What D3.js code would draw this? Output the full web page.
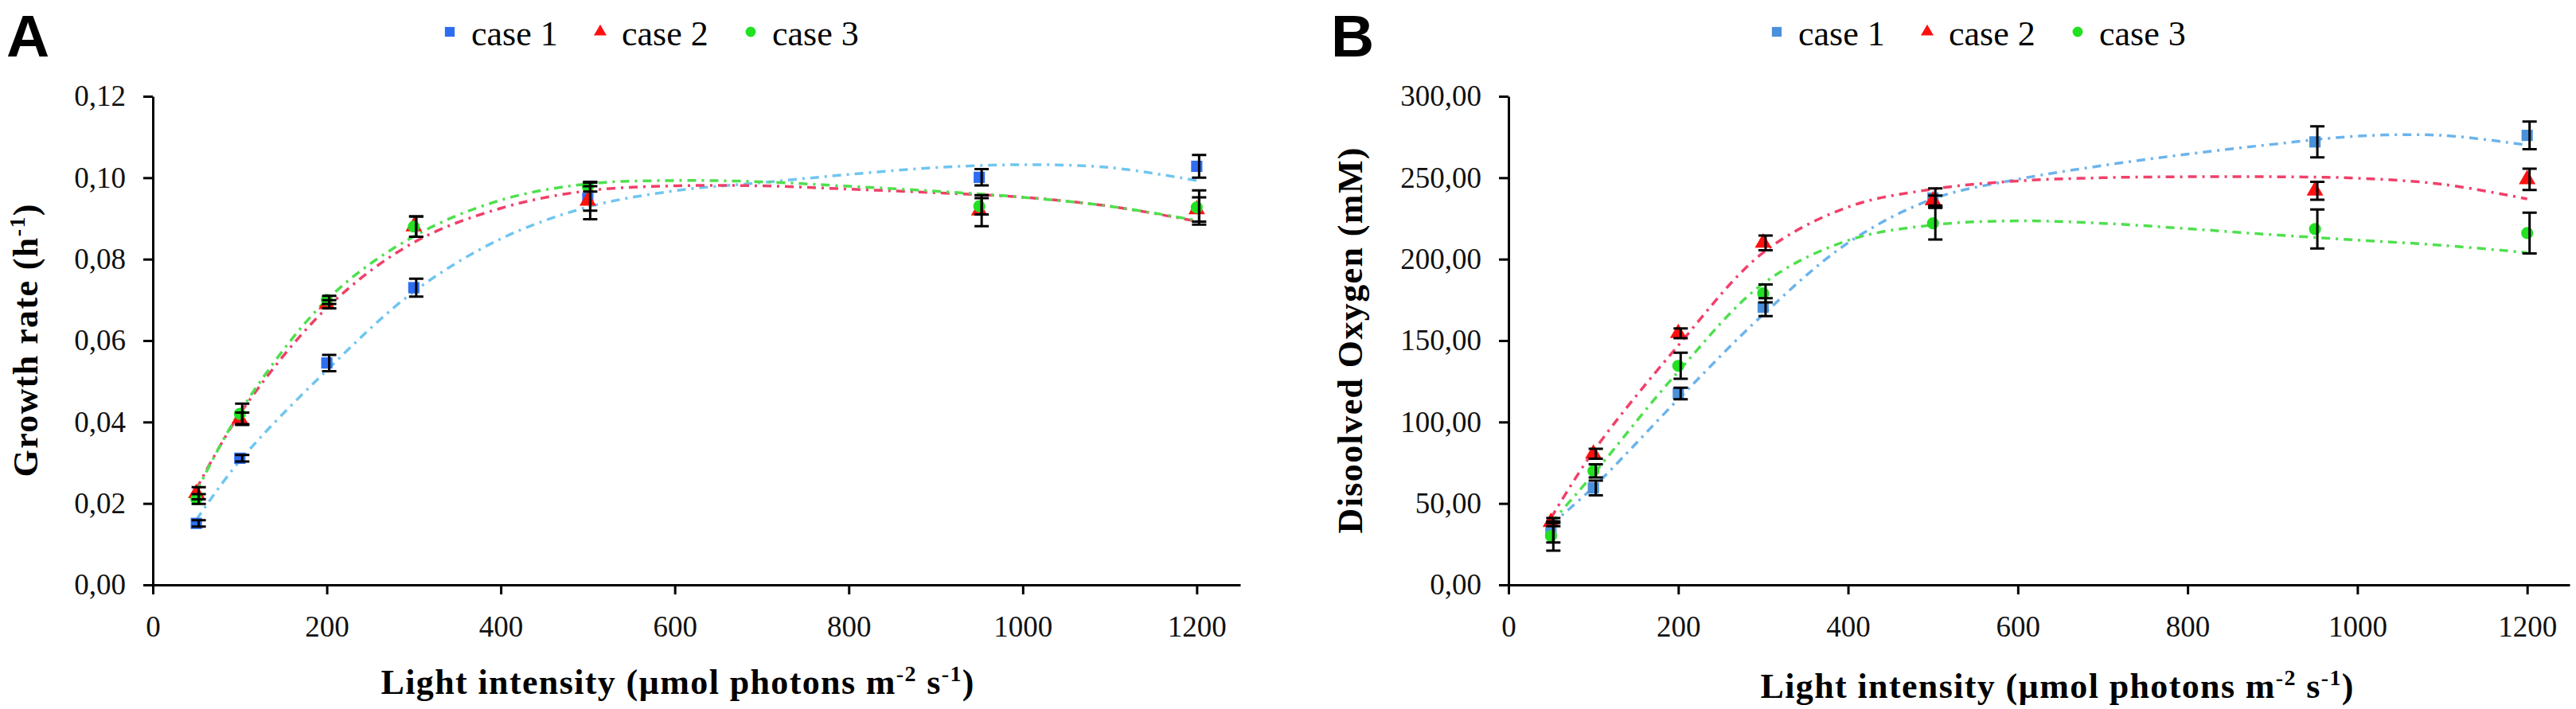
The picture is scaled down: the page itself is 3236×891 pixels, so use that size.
<!DOCTYPE html>
<html>
<head>
<meta charset="utf-8">
<script src="https://cdn.jsdelivr.net/npm/d3@7"></script>
<style>
  body { margin: 0; background: #fff; }
  svg { display: block; }
  .tick text { font-family: 'Liberation Serif', serif; font-size: 37px; fill: #111; }
</style>
</head>
<body>
<div id="chart-area"></div>
<script>
// light intensity levels (µmol photons m-2 s-1)
const lightLevels = [50, 100, 200, 300, 500, 950, 1200]
const xTicks = [0, 200, 400, 600, 800, 1000, 1200]
const seriesNames = ['case 1', 'case 2', 'case 3']

// panel A - growth rate (h-1)
const growthCase1 = [0.0151, 0.0311, 0.0545, 0.0730, 0.0949, 0.1001, 0.1028]
const growthCase2 = [0.0225, 0.0408, 0.0689, 0.0880, 0.0943, 0.0919, 0.0922]
const growthCase3 = [0.0211, 0.0420, 0.0700, 0.0880, 0.0978, 0.0930, 0.0927]
const growthErr1 = [0.0008, 0.0008, 0.0020, 0.0022, 0.0030, 0.0020, 0.0028]
const growthErr2 = [0.0015, 0.0015, 0.0010, 0.0025, 0.0045, 0.0038, 0.0030]
const growthErr3 = [0.0012, 0.0025, 0.0010, 0.0025, 0.0012, 0.0020, 0.0042]
const growthTicks = [0, 0.02, 0.04, 0.06, 0.08, 0.10, 0.12]

// panel B - dissolved oxygen (mM)
const oxygenCase1 = [32, 59.5, 117.5, 170.5, 237.5, 272, 276]
const oxygenCase2 = [38.5, 80.5, 154.5, 210, 236, 242, 249]
const oxygenCase3 = [30, 70, 134.5, 179, 222, 218.5, 216]
const oxygenErr1 = [6, 4.5, 3.5, 5.5, 6, 9.5, 8.5]
const oxygenErr2 = [2.5, 3, 3, 4.5, 3, 5.5, 6.5]
const oxygenErr3 = [9, 4, 8, 5.5, 10, 12, 12.5]
const oxygenTicks = [0, 50, 100, 150, 200, 250, 300]

// trendlines
const trendX = [50, 100, 200, 300, 400, 500, 600, 700, 800, 900, 1000, 1100, 1200]
const growthTrend1 = [0.0160, 0.0305, 0.0527, 0.0720, 0.0850, 0.0928, 0.0968, 0.0988, 0.1008, 0.1025, 0.1032, 0.1025, 0.0993]
const growthTrend2 = [0.0235, 0.0420, 0.0680, 0.0841, 0.0925, 0.0968, 0.0980, 0.0980, 0.0972, 0.0963, 0.0952, 0.0930, 0.0893]
const growthTrend3 = [0.0228, 0.0425, 0.0700, 0.0856, 0.0945, 0.0985, 0.0993, 0.0990, 0.0979, 0.0967, 0.0952, 0.0930, 0.0895]
const oxygenTrend1 = [37, 60, 114, 166, 210, 237, 249, 257.5, 264.5, 270.5, 275.5, 276, 270]
const oxygenTrend2 = [41, 82, 147, 204, 232, 243, 248, 250, 250.6, 250.6, 249.7, 246, 237]
const oxygenTrend3 = [38, 68, 131, 185, 211.5, 221, 223.5, 222, 218.7, 215, 211.7, 208.5, 204]

const W = 3236, H = 891
const serif = "'Liberation Serif', 'Times New Roman', serif"

const comma = d3.formatLocale({ decimal: ',', thousands: '.', grouping: [3], currency: ['', ''] })

const svg = d3.select('#chart-area')
              .append('svg')
              .attr('width', W)
              .attr('height', H)

const panels = [
    {
        letter: 'A', letterX: 8, left: 192, right: 1558, top: 121, bottom: 735,
        yMax: 0.12, yTicks: growthTicks, fmt: comma.format('.2f'),
        values: [growthCase1, growthCase2, growthCase3],
        errors: [growthErr1, growthErr2, growthErr3],
        trends: [growthTrend1, growthTrend2, growthTrend3],
        markColors: ['#2d6df2', '#ff1010', '#22e022'],
        lineColors: ['#70c6f0', '#f0406a', '#4ee04e'],
        legendX: 565, legendStep: 189,
        yTitle: ['Growth  rate (h', '-1', ')'], yTitleX: 47, yTitleLen: 343,
        xTitleX: 851, xTitleY: 872
    },
    {
        letter: 'B', letterX: 1672, left: 1895, right: 3228, top: 121, bottom: 735,
        yMax: 300, yTicks: oxygenTicks, fmt: comma.format('.2f'),
        values: [oxygenCase1, oxygenCase2, oxygenCase3],
        errors: [oxygenErr1, oxygenErr2, oxygenErr3],
        trends: [oxygenTrend1, oxygenTrend2, oxygenTrend3],
        markColors: ['#4a90da', '#ff1010', '#22e022'],
        lineColors: ['#6cb4ec', '#f0406a', '#4ee04e'],
        legendX: 2232, legendStep: 189,
        yTitle: ['Disoolved Oxygen (mM)'], yTitleX: 1711, yTitleLen: 485,
        xTitleX: 2584, xTitleY: 877
    }
]

const symbols = [d3.symbolSquare, d3.symbolTriangle, d3.symbolCircle]
const symbolSizes = [200, 190, 180]
const legendSizes = [150, 110, 130]

panels.forEach(p => {
    const g = svg.append('g')

    const x = d3.scaleLinear().domain([0, 1250]).range([p.left, p.right])
    const y = d3.scaleLinear().domain([0, p.yMax]).range([p.bottom, p.top])

    // panel letter
    g.append('text')
     .attr('x', p.letterX)
     .attr('y', 71)
     .attr('font-family', "'Liberation Sans', Arial, sans-serif")
     .attr('font-weight', 'bold')
     .attr('font-size', '75px')
     .text(p.letter)

    // legend
    seriesNames.forEach((name, i) => {
        const lx = p.legendX + i * p.legendStep
        g.append('path')
         .attr('d', d3.symbol().type(symbols[i]).size(legendSizes[i])())
         .attr('transform', 'translate(' + lx + ',40)')
         .attr('fill', p.markColors[i])
        g.append('text')
         .attr('x', lx + 27)
         .attr('y', 57)
         .attr('font-family', serif)
         .attr('font-size', '44px')
         .text(name)
    })

    // axes
    const xAxisCall = d3.axisBottom(x)
                        .tickValues(xTicks)
                        .tickFormat(d3.format('d'))
                        .tickSize(12)
                        .tickSizeOuter(0)
                        .tickPadding(18)
    const xAxisGroup = g.append('g')
                        .attr('transform', 'translate(0,' + p.bottom + ')')
                        .call(xAxisCall)

    const yAxisCall = d3.axisLeft(y)
                        .tickValues(p.yTicks)
                        .tickFormat(p.fmt)
                        .tickSize(12)
                        .tickSizeOuter(0)
                        .tickPadding(22)
    const yAxisGroup = g.append('g')
                        .attr('transform', 'translate(' + p.left + ',0)')
                        .call(yAxisCall)

    ;[xAxisGroup, yAxisGroup].forEach(ax => {
        ax.select('.domain').attr('stroke', '#000').attr('stroke-width', 3)
        ax.selectAll('.tick line').attr('stroke', '#000').attr('stroke-width', 3)
    })
    xAxisGroup.selectAll('.tick text').attr('dy', '0.95em')

    // trendlines
    const line = d3.line()
                   .x((d, k) => x(trendX[k]))
                   .y(d => y(d))
                   .curve(d3.curveCatmullRom.alpha(0.5))
    p.trends.forEach((vals, i) => {
        g.append('path')
         .attr('d', line(vals))
         .attr('fill', 'none')
         .attr('stroke', p.lineColors[i])
         .attr('stroke-width', 3.5)
         .attr('stroke-dasharray', '11,7,3,7')
    })

    // markers
    p.values.forEach((vals, i) => {
        g.selectAll('.mark' + i)
         .data(vals)
         .enter()
         .append('path')
         .attr('d', d3.symbol().type(symbols[i]).size(symbolSizes[i])())
         .attr('transform', (d, k) => 'translate(' + x(lightLevels[k]) + ',' + y(d) + ')')
         .attr('fill', p.markColors[i])
    })

    // error bars
    p.values.forEach((vals, i) => {
        vals.forEach((v, k) => {
            const cx = x(lightLevels[k]) + 3
            const e = p.errors[i][k]
            const y1 = y(v + e), y2 = y(v - e)
            g.append('path')
             .attr('d', 'M' + cx + ',' + y1 + 'V' + y2 +
                        'M' + (cx - 9) + ',' + y1 + 'H' + (cx + 9) +
                        'M' + (cx - 9) + ',' + y2 + 'H' + (cx + 9))
             .attr('stroke', '#000')
             .attr('stroke-width', 3)
             .attr('fill', 'none')
        })
    })

    // y title
    const yt = g.append('text')
                .attr('transform', 'translate(' + p.yTitleX + ',' + ((p.top + p.bottom) / 2) + ') rotate(-90)')
                .attr('text-anchor', 'middle')
                .attr('font-family', serif)
                .attr('font-weight', 'bold')
                .attr('font-size', '44px')
                .attr('textLength', p.yTitleLen)
                .attr('lengthAdjust', 'spacing')
    yt.append('tspan').text(p.yTitle[0])
    if (p.yTitle.length > 1) {
        yt.append('tspan').attr('dy', -16).attr('font-size', '28px').text(p.yTitle[1])
        yt.append('tspan').attr('dy', 16).text(p.yTitle[2])
    }

    // x title
    const xt = g.append('text')
                .attr('x', p.xTitleX)
                .attr('y', p.xTitleY)
                .attr('text-anchor', 'middle')
                .attr('font-family', serif)
                .attr('font-weight', 'bold')
                .attr('font-size', '44px')
                .attr('textLength', 745)
                .attr('lengthAdjust', 'spacing')
    xt.append('tspan').text('Light intensity (µmol photons m')
    xt.append('tspan').attr('dy', -16).attr('font-size', '28px').text('-2')
    xt.append('tspan').attr('dy', 16).text(' s')
    xt.append('tspan').attr('dy', -16).attr('font-size', '28px').text('-1')
    xt.append('tspan').attr('dy', 16).text(')')
})
</script>
</body>
</html>
